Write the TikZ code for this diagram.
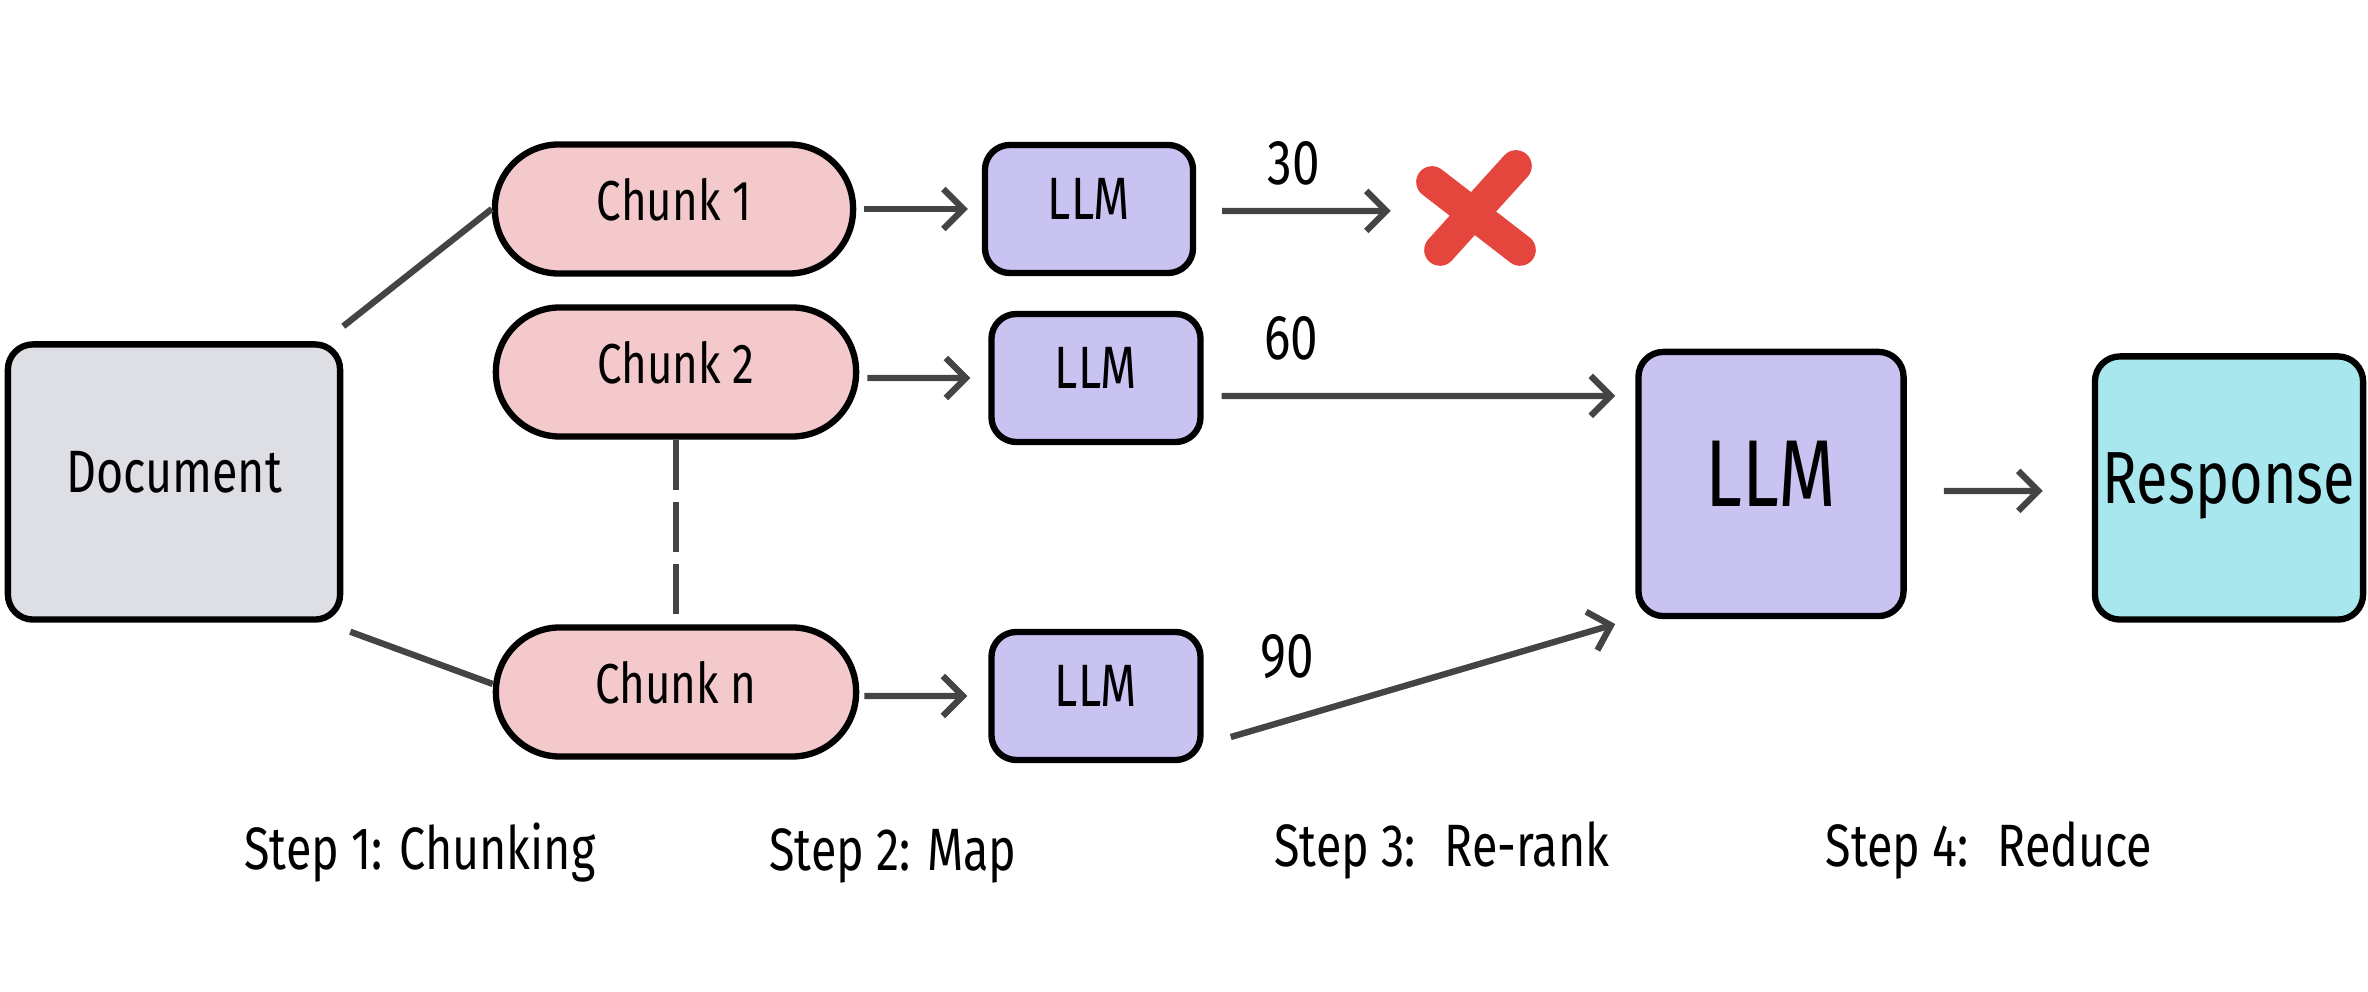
\documentclass[tikz,border=0pt]{standalone}
\usepackage{fontspec}
\setmainfont{Fira Sans}[FakeStretch=0.78]
\usetikzlibrary{arrows.meta}
\definecolor{docgray}{HTML}{DDDFE4}
\definecolor{chunkpink}{HTML}{F4C9CB}
\definecolor{llmpurple}{HTML}{C9C3F2}
\definecolor{respcyan}{HTML}{A9E7EF}
\definecolor{xred}{HTML}{E4463D}
\definecolor{linegray}{HTML}{444444}
\tikzset{
  box/.style={draw=black, line width=1.8pt, rounded corners=0.25cm, inner sep=0pt, align=center, text depth=0.2cm},
  docbox/.style={box, fill=docgray, minimum width=3.32cm, minimum height=2.75cm, font=\fontsize{17}{20}\selectfont},
  chunkbox/.style={box, fill=chunkpink, minimum width=3.6cm, minimum height=1.29cm, rounded corners=0.64cm, font=\fontsize{16}{19}\selectfont},
  llmbox/.style={box, fill=llmpurple, minimum width=2.09cm, minimum height=1.28cm, font=\fontsize{17}{20}\selectfont},
  bigbox/.style={box, fill=llmpurple, minimum width=2.65cm, minimum height=2.64cm, font=\fontsize{27}{30}\selectfont},
  respbox/.style={box, fill=respcyan, minimum width=2.68cm, minimum height=2.63cm, font=\fontsize{21}{24}\selectfont},
  conn/.style={draw=linegray, line width=1.8pt},
  arr/.style={conn, -{Straight Barb[length=0.2cm, width=0.4cm, line width=1.8pt]}},
  score/.style={font=\fontsize{18}{21}\selectfont},
  steplabel/.style={font=\fontsize{17}{20}\selectfont},
  xstroke/.style={draw=xred, line width=9pt, line cap=round}
}
\begin{document}
\begin{tikzpicture}[x=0.01cm, y=-0.01cm]
\useasboundingbox (0,0) rectangle (2368,992);
% nodes
\node[docbox] (doc) at (174,482) {Document};
\node[chunkbox, minimum width=3.58cm] (c1) at (674,209) {Chunk 1};
\node[chunkbox] (c2) at (676,372) {Chunk 2};
\node[chunkbox] (cn) at (676,692) {Chunk n};
\node[llmbox, minimum width=2.08cm] (l1) at (1089,209) {LLM};
\node[llmbox] (l2) at (1096,378) {LLM};
\node[llmbox] (l3) at (1096,696) {LLM};
\node[bigbox] (big) at (1771,484) {LLM};
\node[respbox] (resp) at (2229,488) {Response};
\node[minimum width=1.13cm, minimum height=1cm, inner sep=0pt] (rej) at (1476,213) {};
% red cross
\draw[xstroke] (1432,182) -- (1520,250);
\draw[xstroke] (1516,166) -- (1440,250);
% document to chunks
\draw[conn] ([yshift=0.15cm]doc.north east) -- (c1.west);
\draw[conn] ([xshift=0.07cm,yshift=-0.09cm]doc.south east) -- ([yshift=0.08cm]cn.west);
\draw[conn, dash pattern=on 0.5cm off 0.12cm] (c2.south) -- (cn.north);
% chunks to LLMs
\draw[arr] ([xshift=0.08cm]c1.east) -- ([xshift=-0.14cm]l1.west);
\draw[arr] ([xshift=0.08cm,yshift=-0.06cm]c2.east) -- ([xshift=-0.18cm]l2.west);
\draw[arr] ([xshift=0.05cm,yshift=-0.04cm]cn.east) -- ([xshift=-0.21cm]l3.west);
% LLMs to rerank
\draw[arr] ([xshift=0.26cm,yshift=-0.02cm]l1.east) -- ([xshift=-0.28cm,yshift=0.02cm]rej.west);
\draw[arr] ([xshift=0.18cm,yshift=-0.18cm]l2.east) -- ([xshift=-0.2cm,yshift=0.88cm]big.west);
\draw[arr] ([xshift=0.27cm,yshift=-0.41cm]l3.east) -- ([xshift=-0.2cm,yshift=-1.40cm]big.west);
\draw[arr] ([xshift=0.37cm,yshift=-0.07cm]big.east) -- ([xshift=-0.49cm,yshift=-0.03cm]resp.west);
% scores
\node[score] (s30) at (1294,163) {30};
\node[score] (s60) at (1291,338) {60};
\node[score] (s90) at (1287,657) {90};
% step labels
\node[steplabel] (st1) at (420,853) {Step 1: Chunking};
\node[steplabel] (st2) at (893,856) {Step 2: Map};
\node[steplabel] (st3) at (1442,850) {Step 3:~ Re-rank};
\node[steplabel] (st4) at (1989,850) {Step 4:~ Reduce};
\end{tikzpicture}
\end{document}
